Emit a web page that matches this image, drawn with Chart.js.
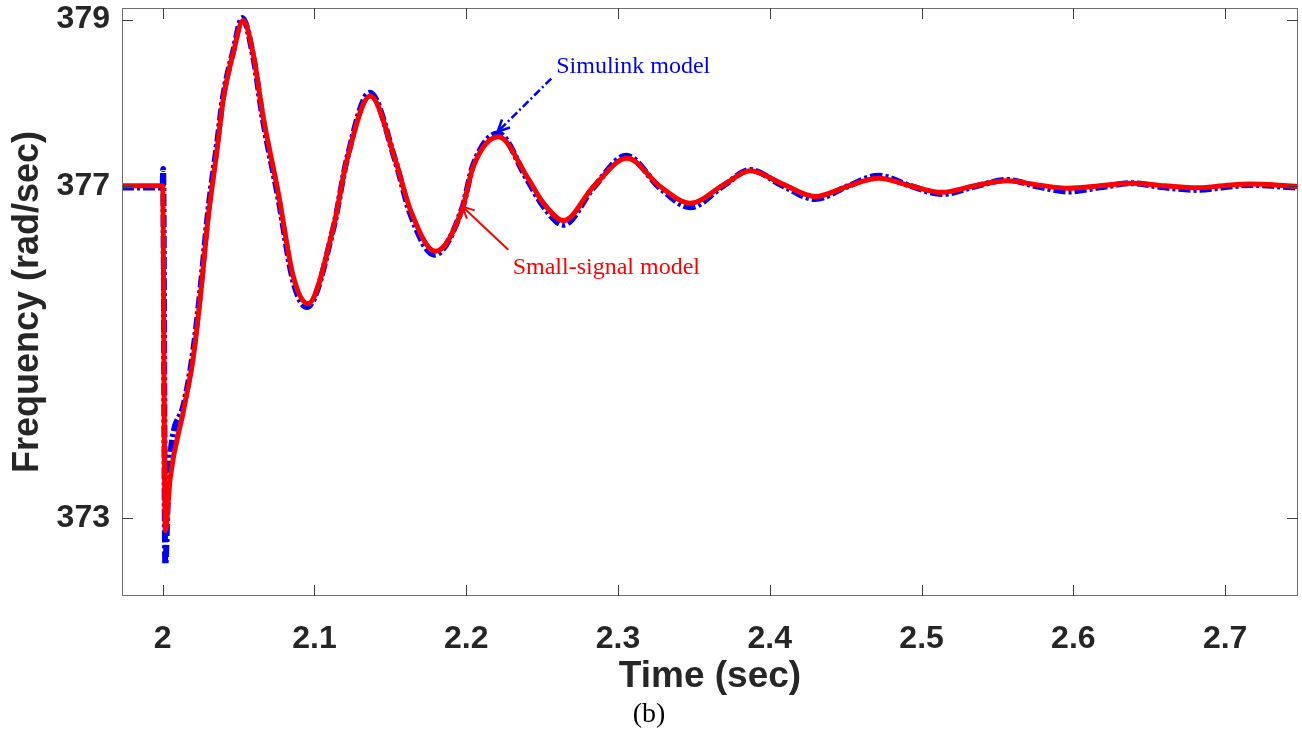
<!DOCTYPE html>
<html>
<head>
<meta charset="utf-8">
<script src="https://cdn.jsdelivr.net/npm/chart.js@4.4.1/dist/chart.umd.min.js"></script>
<style>
  body { margin: 0; background: #fff; }
  #wrap { width: 1302px; height: 738px; }
</style>
</head>
<body>
<div id="wrap"><canvas id="freq"></canvas></div>
<script>
// small-signal model (red, solid)
var redTime = [1.9732, 2.0000, 2.0017, 2.0050, 2.0138, 2.0202, 2.0248, 2.0300, 2.0358, 2.0399, 2.0465,
  2.0530, 2.0600, 2.0660, 2.0762, 2.0860, 2.0957, 2.1126, 2.1214, 2.1368, 2.1533, 2.1632, 2.1796,
  2.1972, 2.2046, 2.2213, 2.2400, 2.2509, 2.2641, 2.2839, 2.3059, 2.3278, 2.3476, 2.3695, 2.3871,
  2.4085, 2.4299, 2.4508, 2.4716, 2.4925, 2.5134, 2.5350, 2.5562, 2.5765, 2.5968, 2.6175, 2.6385,
  2.6600, 2.6810, 2.6990, 2.7165, 2.7480];
var redFreq = [377.0, 377.0, 372.85, 373.49, 374.30, 374.94, 375.66, 376.62, 377.43, 378.04, 378.60,
  378.99, 378.55, 377.85, 376.91, 375.91, 375.58, 376.51, 377.31, 378.08, 377.31, 376.71, 376.21,
  376.71, 377.23, 377.59, 377.11, 376.79, 376.58, 376.99, 377.33, 376.99, 376.79, 377.01, 377.18,
  377.02, 376.87, 376.99, 377.09, 377.00, 376.92, 377.00, 377.06, 377.01, 376.97, 377.00, 377.03,
  377.00, 376.975, 377.00, 377.02, 376.99];

// Simulink model (blue, dash-dot)
var blueTime = [1.9732, 2.0000, 2.0003, 2.0017, 2.0040, 2.0138, 2.0202, 2.0248, 2.0300, 2.0358, 2.0399,
  2.0465, 2.0525, 2.0600, 2.0660, 2.0762, 2.0860, 2.0950, 2.1126, 2.1214, 2.1365, 2.1533, 2.1632,
  2.1790, 2.1972, 2.2046, 2.2210, 2.2400, 2.2509, 2.2641, 2.2839, 2.3055, 2.3278, 2.3476, 2.3695,
  2.3871, 2.4085, 2.4299, 2.4508, 2.4716, 2.4925, 2.5134, 2.5350, 2.5562, 2.5765, 2.5968, 2.6175,
  2.6385, 2.6600, 2.6810, 2.6990, 2.7165, 2.7480];
var blueFreq = [376.98, 376.98, 377.2, 372.44, 373.55, 374.36, 375.02, 375.74, 376.70, 377.50, 378.08,
  378.62, 379.02, 378.52, 377.80, 376.85, 375.85, 375.54, 376.50, 377.32, 378.12, 377.30, 376.66,
  376.17, 376.72, 377.25, 377.63, 377.08, 376.75, 376.53, 376.98, 377.36, 376.97, 376.74, 377.00,
  377.19, 377.00, 376.84, 376.99, 377.12, 377.00, 376.90, 376.99, 377.07, 376.99, 376.93, 376.98,
  377.03, 376.98, 376.95, 376.98, 377.01, 376.975];

var xTicks = [2, 2.1, 2.2, 2.3, 2.4, 2.5, 2.6, 2.7];
var yTicks = [373, 377, 379];

// annotations (data coords)
var noteText = ['Simulink model', 'Small-signal model'];
var noteAt = [[2.31, 378.43], [2.2923, 376.01]];
var arrowFrom = [[2.256, 378.29], [2.2277, 376.23]];
var arrowTo = [[2.2207, 377.65], [2.1974, 376.75]];

var sansBold = '"Liberation Sans", Arial, sans-serif';

function pts(xs, ys) {
  return xs.map(function (x, i) { return { x: x, y: ys[i] }; });
}

const boxAndNotes = {
  id: 'boxAndNotes',
  afterDatasetsDraw(chart) {
    const { ctx, chartArea: a, scales: { x, y } } = chart;
    ctx.save();
    // axes box
    ctx.strokeStyle = '#6e6e6e';
    ctx.lineWidth = 1;
    ctx.strokeRect(a.left + 0.5, a.top + 0.5, a.right - a.left - 1, a.bottom - a.top - 1);
    // inward tick marks, all four sides
    ctx.strokeStyle = '#404040';
    ctx.beginPath();
    xTicks.forEach(function (v) {
      const px = Math.round(x.getPixelForValue(v)) + 0.5;
      ctx.moveTo(px, a.bottom); ctx.lineTo(px, a.bottom - 11);
      ctx.moveTo(px, a.top); ctx.lineTo(px, a.top + 11);
    });
    yTicks.forEach(function (v) {
      const py = Math.round(y.getPixelForValue(v)) + 0.5;
      ctx.moveTo(a.left, py); ctx.lineTo(a.left + 11, py);
      ctx.moveTo(a.right, py); ctx.lineTo(a.right - 11, py);
    });
    ctx.stroke();

    // arrows + labels
    const cols = ['#0000ff', '#ff0000'];
    for (let i = 0; i < noteText.length; i++) {
      const x0 = x.getPixelForValue(arrowFrom[i][0]), y0 = y.getPixelForValue(arrowFrom[i][1]);
      const x1 = x.getPixelForValue(arrowTo[i][0]), y1 = y.getPixelForValue(arrowTo[i][1]);
      ctx.strokeStyle = cols[i];
      ctx.lineWidth = i === 0 ? 2.5 : 2;
      ctx.setLineDash(i === 0 ? [8, 3, 2, 3] : []);
      ctx.beginPath();
      ctx.moveTo(x0, y0);
      ctx.lineTo(x1, y1);
      ctx.stroke();
      ctx.setLineDash([]);
      const ang = Math.atan2(y1 - y0, x1 - x0);
      ctx.beginPath();
      ctx.moveTo(x1 - 13 * Math.cos(ang - 0.45), y1 - 13 * Math.sin(ang - 0.45));
      ctx.lineTo(x1, y1);
      ctx.lineTo(x1 - 13 * Math.cos(ang + 0.45), y1 - 13 * Math.sin(ang + 0.45));
      ctx.stroke();

      ctx.fillStyle = cols[i];
      ctx.font = '24px "Liberation Serif", "Times New Roman", serif';
      ctx.textAlign = 'center';
      ctx.textBaseline = 'middle';
      ctx.fillText(noteText[i], x.getPixelForValue(noteAt[i][0]), y.getPixelForValue(noteAt[i][1]));
    }
    ctx.restore();
  }
};

new Chart(document.getElementById('freq'), {
  type: 'line',
  data: {
    datasets: [
      {
        label: 'Small-signal model',
        data: pts(redTime, redFreq),
        borderColor: '#ff0000',
        borderWidth: 5,
        pointRadius: 0,
        cubicInterpolationMode: 'monotone',
        order: 0
      },
      {
        label: 'Simulink model',
        data: pts(blueTime, blueFreq),
        borderColor: '#0000ff',
        borderWidth: 6,
        borderDash: [12, 3, 3, 3],
        pointRadius: 0,
        cubicInterpolationMode: 'monotone',
        order: 1
      }
    ]
  },
  options: {
    responsive: true,
    maintainAspectRatio: false,
    animation: false,
    layout: { padding: { top: 8, right: 4, left: 0, bottom: 0 } },
    plugins: {
      legend: { display: false },
      tooltip: { enabled: false },
      title: {
        display: true,
        position: 'bottom',
        text: '(b)',
        color: '#000',
        font: { family: '"Liberation Serif", "Times New Roman", serif', size: 28, weight: 'normal', lineHeight: 1 },
        padding: { top: 0, bottom: 9 }
      }
    },
    scales: {
      x: {
        type: 'linear',
        min: 1.9732,
        max: 2.748,
        grid: { display: false, drawTicks: false },
        border: { display: false },
        afterBuildTicks: function (s) { s.ticks = xTicks.map(function (v) { return { value: v }; }); },
        afterFit: function (s) { s.height = 105; s.paddingLeft = 0; s.paddingRight = 0; },
        ticks: {
          color: '#262626',
          padding: 24,
          maxRotation: 0,
          autoSkip: false,
          font: { family: sansBold, size: 32, weight: 'bold' },
          callback: function (v) { return String(v); }
        },
        title: {
          display: true,
          text: 'Time (sec)',
          color: '#262626',
          font: { family: sansBold, size: 37, weight: 'bold', lineHeight: 1 },
          padding: { top: 0, bottom: 6 }
        }
      },
      y: {
        min: 372.06,
        max: 379.14,
        grid: { display: false, drawTicks: false },
        border: { display: false },
        afterBuildTicks: function (s) { s.ticks = yTicks.map(function (v) { return { value: v }; }); },
        afterFit: function (s) { s.width = 122; s.paddingTop = 0; s.paddingBottom = 0; },
        ticks: {
          color: '#262626',
          padding: 12,
          font: { family: sansBold, size: 32, weight: 'bold' },
          callback: function (v) { return String(v); }
        },
        title: {
          display: true,
          text: 'Frequency (rad/sec)',
          color: '#262626',
          font: { family: sansBold, size: 36, weight: 'bold', lineHeight: 1 },
          padding: { top: 10, bottom: 0 }
        }
      }
    }
  },
  plugins: [boxAndNotes]
});
</script>
</body>
</html>
